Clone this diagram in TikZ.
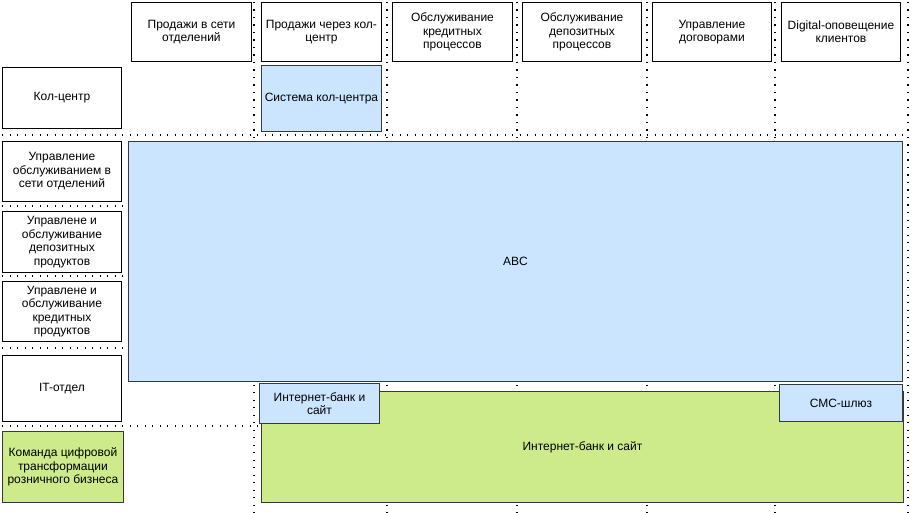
\documentclass[tikz,border=0pt]{standalone}
\usepackage{fontspec}
\setmainfont{Liberation Sans}
\definecolor{lblue}{HTML}{CCE5FF}
\definecolor{lgreen}{HTML}{CDEB8B}
\definecolor{dstroke}{HTML}{36393D}
\begin{document}
\begin{tikzpicture}[x=1pt,y=-1pt,
  box/.style={draw=black, fill=white, line width=0.9pt, align=center, anchor=north west,
    font=\fontsize{12}{13.5}\selectfont, inner sep=1pt},
  bluebox/.style={box, draw=dstroke, fill=lblue},
  greenbox/.style={box, draw=dstroke, fill=lgreen},
  gridline/.style={line width=1.4pt, dash pattern=on 1.4pt off 6.1pt, black}]
\useasboundingbox (0,0) rectangle (915,513);
% grid
\foreach \gx in {254,387,517,647,775,908} \draw[gridline] (\gx,2) -- (\gx,513);
\foreach \gy in {135,206,276,348,426} \draw[gridline] (2,\gy) -- (908,\gy);
% column headers
\node[box, minimum width=120pt, minimum height=59pt] (h1) at (131,2) {Продажи в сети\\отделений};
\node[box, minimum width=120pt, minimum height=59pt] (h2) at (261,2) {Продажи через кол-\\центр};
\node[box, minimum width=120pt, minimum height=59pt] (h3) at (392,2) {Обслуживание\\кредитных\\процессов};
\node[box, minimum width=119pt, minimum height=59pt] (h4) at (522,2) {Обслуживание\\депозитных\\процессов};
\node[box, minimum width=119pt, minimum height=59pt] (h5) at (652,2) {Управление\\договорами};
\node[box, minimum width=119pt, minimum height=59pt] (h6) at (781,2) {Digital-оповещение\\клиентов};
% row headers
\node[box, minimum width=119pt, minimum height=61pt] (r1) at (2,67) {Кол-центр};
\node[box, minimum width=119pt, minimum height=60pt] (r2) at (2,141) {Управление\\обслуживанием в\\сети отделений};
\node[box, minimum width=119pt, minimum height=61pt] (r3) at (2,211) {Управлене и\\обслуживание\\депозитных\\продуктов};
\node[box, minimum width=119pt, minimum height=60pt] (r4) at (2,281) {Управлене и\\обслуживание\\кредитных\\продуктов};
\node[box, minimum width=119pt, minimum height=66pt] (r5) at (2,355) {IT-отдел};
\node[greenbox, minimum width=121pt, minimum height=71pt] (r6) at (2,431) {Команда цифровой\\трансформации\\розничного бизнеса};
% systems
\node[bluebox, minimum width=120pt, minimum height=66pt] (cc) at (261,65) {Система кол-центра};
\node[bluebox, minimum width=774pt, minimum height=240pt] (abc) at (128,141) {ABC};
\node[greenbox, minimum width=642pt, minimum height=111pt] (ib) at (261,391) {Интернет-банк и сайт};
\node[bluebox, minimum width=120pt, minimum height=40pt] (ibs) at (259,383) {Интернет-банк и\\сайт};
\node[bluebox, minimum width=123pt, minimum height=37pt] (sms) at (779,384) {СМС-шлюз};
\end{tikzpicture}
\end{document}
